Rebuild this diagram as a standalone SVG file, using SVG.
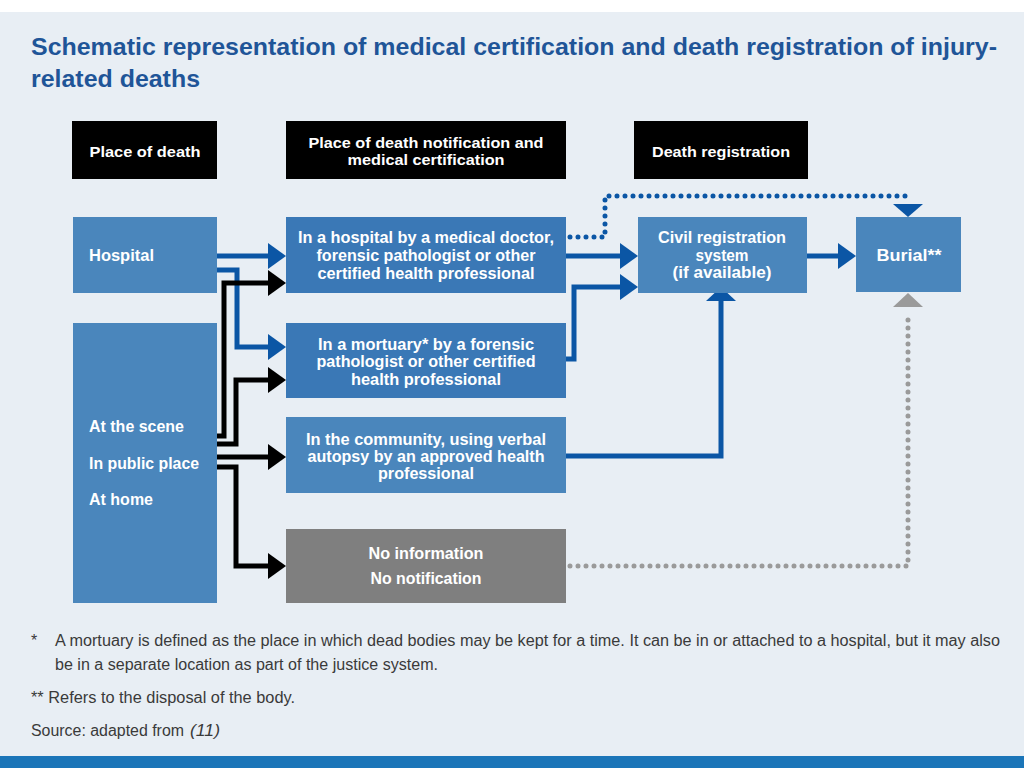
<svg xmlns="http://www.w3.org/2000/svg" width="1024" height="768" viewBox="0 0 1024 768">
<defs>
<style>
.bg{fill:#e8eef4}
.hdr{fill:#000}
.bl{fill:#4a86bc}
.bm{fill:#3a78b6}
.gr{fill:#7f7f7f}
.t{font-family:"Liberation Sans",Arial,sans-serif;font-weight:bold;fill:#fff;font-size:16px}
.th{font-family:"Liberation Sans",Arial,sans-serif;font-weight:bold;fill:#fff;font-size:15px}
.c{text-anchor:middle}
.title{font-family:"Liberation Sans",Arial,sans-serif;font-weight:bold;fill:#1f5598;font-size:24px}
.fn{font-family:"Liberation Sans",Arial,sans-serif;fill:#3a3a3a;font-size:16px}
.lb{fill:none;stroke:#0b56a5;stroke-width:5}
.lk{fill:none;stroke:#000;stroke-width:5}
.db{fill:none;stroke:#0b56a5;stroke-width:5;stroke-dasharray:0 8;stroke-linecap:round}
.dg{fill:none;stroke:#9a9a9a;stroke-width:5;stroke-dasharray:0 8;stroke-linecap:round}
</style>
<marker id="ab" viewBox="0 0 18 26" markerWidth="18" markerHeight="26" refX="8" refY="13" orient="auto" markerUnits="userSpaceOnUse"><path d="M0 0L18 13L0 26z" fill="#0b56a5"/></marker>
<marker id="ak" viewBox="0 0 18 26" markerWidth="18" markerHeight="26" refX="8" refY="13" orient="auto" markerUnits="userSpaceOnUse"><path d="M0 0L18 13L0 26z" fill="#000"/></marker>
<marker id="wb" viewBox="0 0 14 30" markerWidth="14" markerHeight="30" refX="4" refY="15" orient="auto" markerUnits="userSpaceOnUse"><path d="M0 0L14 15L0 30z" fill="#0b56a5"/></marker>
</defs>
<rect x="0" y="0" width="1024" height="768" fill="#fff"/>
<rect class="bg" x="0" y="12" width="1024" height="744"/>
<rect x="0" y="756" width="1024" height="12" fill="#1b75b8"/>

<g id="title">
<text class="title" x="31" y="55" textLength="966" lengthAdjust="spacingAndGlyphs">Schematic representation of medical certification and death registration of injury-</text>
<text class="title" x="31" y="87" textLength="169" lengthAdjust="spacingAndGlyphs">related deaths</text>
</g>

<g id="hdr-place">
<rect class="hdr" x="72" y="121" width="145" height="58"/>
<text class="th c" x="145" y="157" textLength="111" lengthAdjust="spacingAndGlyphs">Place of death</text>
</g>
<g id="hdr-notif">
<rect class="hdr" x="286" y="121" width="280" height="58"/>
<text class="th c" x="426" y="148" textLength="235" lengthAdjust="spacingAndGlyphs">Place of death notification and</text>
<text class="th c" x="426" y="165" textLength="157" lengthAdjust="spacingAndGlyphs">medical certification</text>
</g>
<g id="hdr-reg">
<rect class="hdr" x="634" y="121" width="174" height="58"/>
<text class="th c" x="721" y="157" textLength="138" lengthAdjust="spacingAndGlyphs">Death registration</text>
</g>

<g id="connectors">
<path class="lb" d="M217 256H276" marker-end="url(#ab)"/>
<path class="lb" d="M217 270H237V347H276" marker-end="url(#ab)"/>
<path class="lb" d="M566 256H628" marker-end="url(#ab)"/>
<path class="lb" d="M566 359H574V287H628" marker-end="url(#ab)"/>
<path class="lb" d="M566 456H721V297" marker-end="url(#wb)"/>
<path class="lb" d="M807 256H846" marker-end="url(#ab)"/>
<path class="lk" d="M217 436H224V283H276" marker-end="url(#ak)"/>
<path class="lk" d="M217 444H236V380H276" marker-end="url(#ak)"/>
<path class="lk" d="M217 457H276" marker-end="url(#ak)"/>
<path class="lk" d="M217 467H236V566H276" marker-end="url(#ak)"/>
<path class="db" d="M570 237H605V196H908"/>
<polygon points="893,204 923,204 908,217" fill="#0b56a5"/>
<path class="dg" d="M570 566H908V313"/>
<polygon points="893,307 923,307 908,293" fill="#9a9a9a"/>
</g>

<g id="hospital">
<rect class="bl" x="73" y="217" width="144" height="76"/>
<text class="t" x="89" y="261" textLength="65" lengthAdjust="spacingAndGlyphs">Hospital</text>
</g>
<g id="places">
<rect class="bl" x="73" y="323" width="144" height="280"/>
<text class="t" x="89" y="432" textLength="95" lengthAdjust="spacingAndGlyphs">At the scene</text>
<text class="t" x="89" y="469" textLength="110" lengthAdjust="spacingAndGlyphs">In public place</text>
<text class="t" x="89" y="505" textLength="64" lengthAdjust="spacingAndGlyphs">At home</text>
</g>
<g id="cert-hospital">
<rect class="bm" x="286" y="217" width="280" height="76"/>
<text class="t c" x="426" y="243" textLength="256" lengthAdjust="spacingAndGlyphs">In a hospital by a medical doctor,</text>
<text class="t c" x="426" y="261" textLength="219" lengthAdjust="spacingAndGlyphs">forensic pathologist or other</text>
<text class="t c" x="426" y="279" textLength="217" lengthAdjust="spacingAndGlyphs">certified health professional</text>
</g>
<g id="cert-mortuary">
<rect class="bm" x="286" y="323" width="280" height="75"/>
<text class="t c" x="426" y="350" textLength="216" lengthAdjust="spacingAndGlyphs">In a mortuary* by a forensic</text>
<text class="t c" x="426" y="367" textLength="219" lengthAdjust="spacingAndGlyphs">pathologist or other certified</text>
<text class="t c" x="426" y="385" textLength="150" lengthAdjust="spacingAndGlyphs">health professional</text>
</g>
<g id="cert-community">
<rect class="bl" x="286" y="417" width="280" height="76"/>
<text class="t c" x="426" y="445" textLength="240" lengthAdjust="spacingAndGlyphs">In the community, using verbal</text>
<text class="t c" x="426" y="462" textLength="237" lengthAdjust="spacingAndGlyphs">autopsy by an approved health</text>
<text class="t c" x="426" y="479" textLength="96" lengthAdjust="spacingAndGlyphs">professional</text>
</g>
<g id="no-info">
<rect class="gr" x="286" y="529" width="280" height="74"/>
<text class="t c" x="426" y="559" textLength="115" lengthAdjust="spacingAndGlyphs">No information</text>
<text class="t c" x="426" y="584" textLength="111" lengthAdjust="spacingAndGlyphs">No notification</text>
</g>
<g id="civil">
<rect class="bl" x="638" y="217" width="169" height="76"/>
<text class="t c" x="722" y="243" textLength="128" lengthAdjust="spacingAndGlyphs">Civil registration</text>
<text class="t c" x="722" y="261" textLength="53" lengthAdjust="spacingAndGlyphs">system</text>
<text class="t c" x="722" y="278" textLength="99" lengthAdjust="spacingAndGlyphs">(if available)</text>
</g>
<g id="burial">
<rect class="bl" x="856" y="217" width="105" height="75"/>
<text class="t c" x="909" y="261" textLength="65" lengthAdjust="spacingAndGlyphs">Burial**</text>
</g>

<g id="footnotes">
<text class="fn" x="31" y="646">*</text>
<text class="fn" x="55" y="646" textLength="945" lengthAdjust="spacingAndGlyphs">A mortuary is defined as the place in which dead bodies may be kept for a time. It can be in or attached to a hospital, but it may also</text>
<text class="fn" x="55" y="670" textLength="383" lengthAdjust="spacingAndGlyphs">be in a separate location as part of the justice system.</text>
<text class="fn" x="31" y="703" textLength="264" lengthAdjust="spacingAndGlyphs">** Refers to the disposal of the body.</text>
<text class="fn" x="31" y="736" textLength="153" lengthAdjust="spacingAndGlyphs">Source: adapted from</text>
<text class="fn" x="190" y="736" font-style="italic" textLength="30" lengthAdjust="spacingAndGlyphs">(11)</text>
</g>
</svg>
